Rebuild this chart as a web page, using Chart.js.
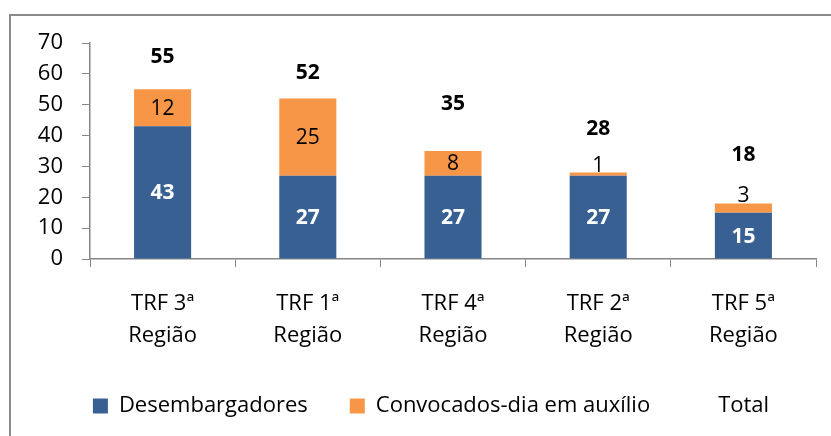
<!DOCTYPE html>
<html>
<head>
<meta charset="utf-8">
<script src="https://cdn.jsdelivr.net/npm/chart.js@4.4.1/dist/chart.umd.min.js"></script>
<style>
  html, body { margin: 0; padding: 0; background: #fff; }
  #wrap { position: relative; width: 831px; height: 436px; }
</style>
</head>
<body>
<div id="wrap"><canvas id="c" width="831" height="436"></canvas></div>
<script>
const categories = [["TRF 3ª", "Região"], ["TRF 1ª", "Região"], ["TRF 4ª", "Região"], ["TRF 2ª", "Região"], ["TRF 5ª", "Região"]];
const desembargadores = [43, 27, 27, 27, 15];
const convocados = [12, 25, 8, 1, 3];
const totals = [55, 52, 35, 28, 18];
const yTicks = [0, 10, 20, 30, 40, 50, 60, 70];

const FONT = "'Open Sans', 'DejaVu Sans', sans-serif";
const BLUE = '#386092';
const ORANGE = '#F79646';
const AXIS = '#868686';

const framePlugin = {
  id: 'frame',
  afterLayout(chart) {
    if (chart.legend) { chart.legend.left += 46; }
  },
  beforeDraw(chart) {
    const ctx = chart.ctx;
    ctx.save();
    ctx.fillStyle = '#fff';
    ctx.fillRect(0, 0, chart.width, chart.height);
    ctx.strokeStyle = '#8a8a8a';
    ctx.lineWidth = 2;
    ctx.strokeRect(10, 15, chart.width + 20, chart.height + 20);
    ctx.restore();
  }
};

const labelPlugin = {
  id: 'valueLabels',
  afterDatasetsDraw(chart, args, opts) {
    const ctx = chart.ctx;
    const y = chart.scales.y;
    ctx.save();
    ctx.textAlign = 'center';
    ctx.textBaseline = 'middle';
    const m0 = chart.getDatasetMeta(0);
    ctx.font = 'bold 21px ' + FONT;
    ctx.fillStyle = '#ffffff';
    m0.data.forEach((bar, i) => {
      const c = (bar.y + bar.base) / 2;
      ctx.fillText(String(desembargadores[i]), bar.x, c + 1);
    });
    const m1 = chart.getDatasetMeta(1);
    ctx.font = '21px ' + FONT;
    ctx.fillStyle = '#000000';
    m1.data.forEach((bar, i) => {
      const h = Math.abs(bar.base - bar.y);
      let c = (bar.y + bar.base) / 2 + 1;
      if (h < 15) c = bar.y - 7;
      ctx.fillText(String(convocados[i]), bar.x, c);
    });
    const m2 = chart.getDatasetMeta(2);
    ctx.font = 'bold 21px ' + FONT;
    m2.data.forEach((pt, i) => {
      const top = y.getPixelForValue(desembargadores[i] + convocados[i]);
      ctx.fillText(String(totals[i]), pt.x, top - opts.lift[i]);
    });
    ctx.restore();
  }
};

new Chart(document.getElementById('c'), {
  type: 'bar',
  data: {
    labels: categories,
    datasets: [
      { label: 'Desembargadores', data: desembargadores, backgroundColor: BLUE, stack: 's',
        barPercentage: 0.393, categoryPercentage: 1.0 },
      { label: 'Convocados-dia em auxílio', data: convocados, backgroundColor: ORANGE, stack: 's',
        barPercentage: 0.393, categoryPercentage: 1.0 },
      { label: 'Total', type: 'line', data: totals, showLine: false, pointRadius: 0,
        borderColor: 'rgba(0,0,0,0)', backgroundColor: 'rgba(0,0,0,0)' }
    ]
  },
  options: {
    responsive: false,
    animation: false,
    devicePixelRatio: 1,
    layout: { padding: { top: 43, right: 15, left: 0, bottom: 9 } },
    plugins: {
      tooltip: { enabled: false },
      valueLabels: { lift: [32, 26, 47, 44, 48] },
      legend: {
        position: 'bottom',
        labels: {
          font: { family: FONT, size: 22 },
          color: '#000',
          boxWidth: 15,
          boxHeight: 15,
          padding: 42,
          generateLabels(chart) {
            const items = Chart.defaults.plugins.legend.labels.generateLabels(chart);
            items.forEach((it) => {
              it.lineWidth = 0;
              it.strokeStyle = 'rgba(0,0,0,0)';
              if (it.datasetIndex === 2) { it.fillStyle = 'rgba(0,0,0,0)'; }
            });
            return items;
          }
        }
      }
    },
    scales: {
      x: {
        stacked: true,
        grid: { display: true, drawOnChartArea: false, tickLength: 8, color: AXIS, offset: true },
        border: { display: true, color: AXIS, width: 1.5 },
        ticks: { font: { family: FONT, size: 22, lineHeight: 1.45 }, color: '#000', padding: 21, maxRotation: 0 },
        afterFit(scale) { scale.height = 94; }
      },
      y: {
        stacked: true,
        min: 0, max: 70,
        afterBuildTicks(scale) { scale.ticks = yTicks.map(v => ({ value: v })); },
        grid: { display: true, drawOnChartArea: false, tickLength: 8, color: AXIS },
        border: { display: true, color: AXIS, width: 1.5 },
        ticks: { font: { family: FONT, size: 22 }, color: '#000', padding: 19 },
        afterFit(scale) { scale.width = 90; }
      }
    }
  },
  plugins: [framePlugin, labelPlugin]
});
</script>
</body>
</html>
